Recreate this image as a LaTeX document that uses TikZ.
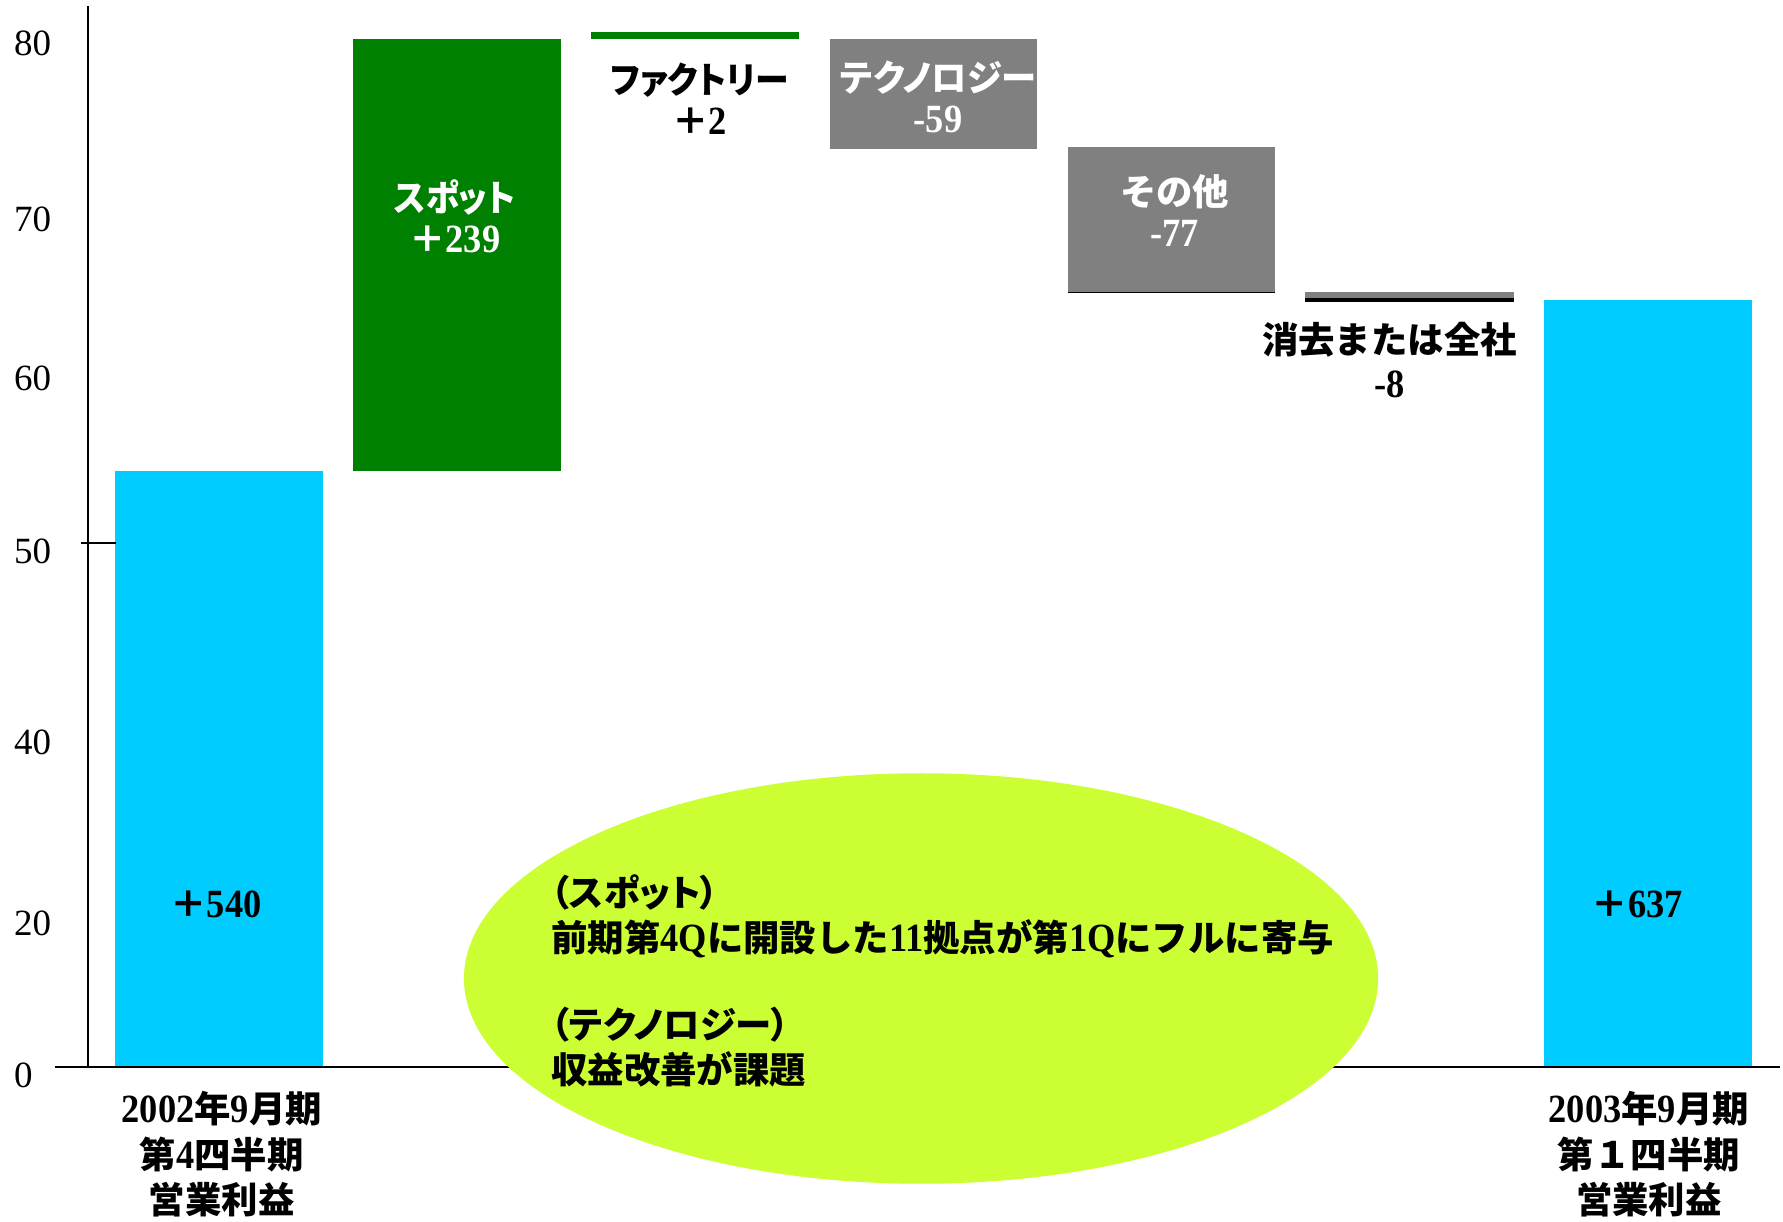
\documentclass[tikz,border=0pt]{standalone}
\usepackage{fontspec}
\setmainfont{Liberation Serif}
\newfontfamily\tmb{Liberation Serif}[BoldFont={Liberation Serif Bold}]
\newfontfamily\jp{Noto Sans CJK JP}
\newfontfamily\jpp{Noto Sans CJK JP}[RawFeature=+palt]
\newcommand\tnum[1]{\scalebox{1}[1.1]{\tmb\bfseries #1}}
\definecolor{cblue}{HTML}{00CCFF}
\definecolor{cgreen}{HTML}{008000}
\definecolor{cgray}{HTML}{808080}
\definecolor{cyell}{HTML}{CCFF33}
\tikzset{
  axisline/.style={line width=0.8pt, black},
  ticklab/.style={anchor=west, inner sep=0pt, font=\fontsize{18.5}{20}\selectfont},
  lab/.style={align=center, inner sep=0pt, font=\jp\bfseries\fontsize{18.2}{20.5}\selectfont},
  wlab/.style={lab, text=white},
  botlab/.style={align=center, inner sep=0pt, font=\jp\bfseries\fontsize{18.2}{22.7}\selectfont},
  elltext/.style={align=left, anchor=west, inner sep=0pt, font=\jp\bfseries\fontsize{18.2}{22.5}\selectfont}
}
\begin{document}
\begin{tikzpicture}[x=0.56856pt,y=-0.56856pt]
\useasboundingbox (0,0) rectangle (1568,1074);
% bars
\fill[cblue] (101,414) rectangle (284,938.5);
\fill[cgreen] (310.5,34.3) rectangle (493.4,414.5);
\fill[cgreen] (520,28.5) rectangle (703,34);
\fill[cgray] (729.5,34.3) rectangle (912,131);
\fill[cgray] (939,129.5) rectangle (1121,257);
\draw[line width=0.9pt] (939,257.3) -- (1121,257.3);
\fill[cgray] (1148,257) rectangle (1331,262.5);
\fill[black] (1148,262.5) rectangle (1331,265.5);
\fill[cblue] (1358,264) rectangle (1541,938.5);
% axes
\draw[axisline] (77.6,5.3) -- (77.6,938.5);
\draw[axisline] (48,938.5) -- (1565,938.5);
\draw[axisline] (71,477.6) -- (102,477.6);
% ellipse
\fill[cyell] (810,860.5) ellipse [x radius=402, y radius=180.5];
% tick labels
\node[ticklab] (t80) at (12,38) {80};
\node[ticklab] (t70) at (12,193) {70};
\node[ticklab] (t60) at (12,333) {60};
\node[ticklab] (t50) at (12,485) {50};
\node[ticklab] (t40) at (12,653) {40};
\node[ticklab] (t20) at (12,812) {20};
\node[ticklab] (t0) at (12,946) {0};
% bar labels
\node[wlab] (spotlab) at (400,190) {\scalebox{0.93}[1]{\jpp スポット}\\＋\tnum{239}};
\node[lab] (factlab) at (615,87) {\scalebox{0.93}[1]{\jpp ファクトリー}\\＋\tnum{2}};
\node[wlab] (techlab) at (825,85) {\scalebox{0.97}[1]{\jpp テクノロジー}\\\tnum{-59}};
\node[wlab] (othlab) at (1033,185.5) {その他\\\tnum{-77}};
\node[lab, font=\jp\bfseries\fontsize{18.2}{22.2}\selectfont] (elimlab) at (1222,316.5) {消去または全社\\\tnum{-8}};
\node[lab] (v540) at (190,795) {＋\tnum{540}};
\node[lab] (v637) at (1440,795) {＋\tnum{637}};
% category labels
\node[botlab] (cat1) at (195,1015) {\tnum{2002}年\tnum{9}月期\\第\tnum{4}四半期\\営業利益};
\node[botlab] (cat2) at (1450,1015) {\tnum{2003}年\tnum{9}月期\\第１四半期\\営業利益};
% ellipse text
\node[elltext] (note) at (484.5,863) {{\jpp （スポット）}\\
前期第\tnum{4Q}に開設した\tnum{11}拠点が第\tnum{1Q}にフルに寄与\\[21pt]
{\jpp （テクノロジー）}\\
収益改善が課題};
\end{tikzpicture}
\end{document}
